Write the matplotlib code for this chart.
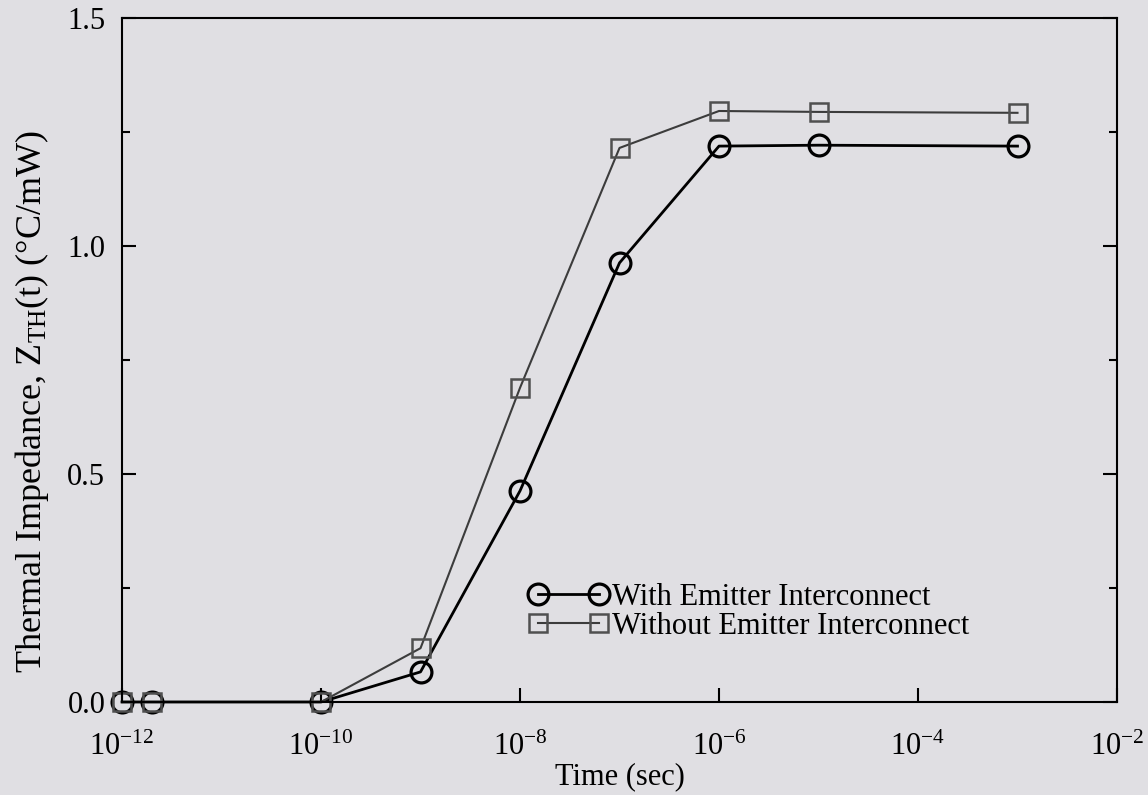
import matplotlib.pyplot as plt

plt.rcParams['font.family'] = ['Liberation Serif', 'DejaVu Serif']
plt.rcParams['mathtext.fontset'] = 'custom'
plt.rcParams['mathtext.rm'] = 'Liberation Serif'
plt.rcParams['mathtext.it'] = 'Liberation Serif:italic'

# time (s)
t = [1e-12, 2e-12, 1e-10, 1e-9, 1e-8, 1e-7, 1e-6, 1e-5, 1e-3]
# thermal impedance (degC/mW)
z_with = [0.0, 0.0, 0.0, 0.066, 0.463, 0.963, 1.219, 1.221, 1.219]
z_without = [0.0, 0.0, 0.0, 0.118, 0.689, 1.215, 1.296, 1.294, 1.292]

x_ticks = [1e-12, 1e-10, 1e-8, 1e-6, 1e-4, 1e-2]
x_labels = ['$10^{-12}$', '$10^{-10}$', '$10^{-8}$', '$10^{-6}$', '$10^{-4}$', '$10^{-2}$']
y_ticks = [0.0, 0.5, 1.0, 1.5]
y_minor = [0.25, 0.75, 1.25]

bg = '#e0dfe3'
fs = 22
fig = plt.figure(figsize=(11.48, 7.95), dpi=100, facecolor=bg)
ax = fig.add_axes([0.1063, 0.117, 0.8667, 0.8604])
ax.set_facecolor(bg)

ax.plot(t, z_with, color='black', lw=2.0, marker='o', ms=15, mfc='none',
        mec='black', mew=2.3, label='With Emitter Interconnect', clip_on=False)
ax.plot(t, z_without, color='#3c3c3c', lw=1.5, marker='s', ms=13, mfc='none',
        mec='#505050', mew=1.8, label='Without Emitter Interconnect', clip_on=False)

ax.set_xscale('log')
ax.set_xlim(1e-12, 1e-2)
ax.set_ylim(0, 1.5)
ax.set_xticks(x_ticks)
ax.set_xticklabels(x_labels)
ax.minorticks_off()
ax.set_yticks(y_ticks)
ax.set_yticklabels(['%.1f' % v for v in y_ticks])
ax.set_yticks(y_minor, minor=True)

ax.tick_params(axis='both', which='major', direction='in', length=10, width=1.5,
               labelsize=fs)
ax.tick_params(axis='y', which='both', right=True)
ax.tick_params(axis='y', which='major', pad=12)
ax.tick_params(axis='y', which='minor', direction='in', length=6, width=1.5)
ax.tick_params(axis='x', which='major', pad=22)
for s in ax.spines.values():
    s.set_linewidth(1.5)

ax.set_xlabel('Time (sec)', fontsize=fs, labelpad=0)
ax.set_ylabel(r'Thermal Impedance, Z$_{\mathrm{TH}}$(t) (°C/mW)', fontsize=26)
ax.yaxis.set_label_coords(-0.071, 0.44)

ax.legend(loc='upper left', bbox_to_anchor=(0.393, 0.197), frameon=False,
          fontsize=fs, handlelength=2.6, handletextpad=0.15, labelspacing=0.0,
          borderpad=0, numpoints=2)

fig.savefig('out.png', dpi=100, facecolor=bg)
